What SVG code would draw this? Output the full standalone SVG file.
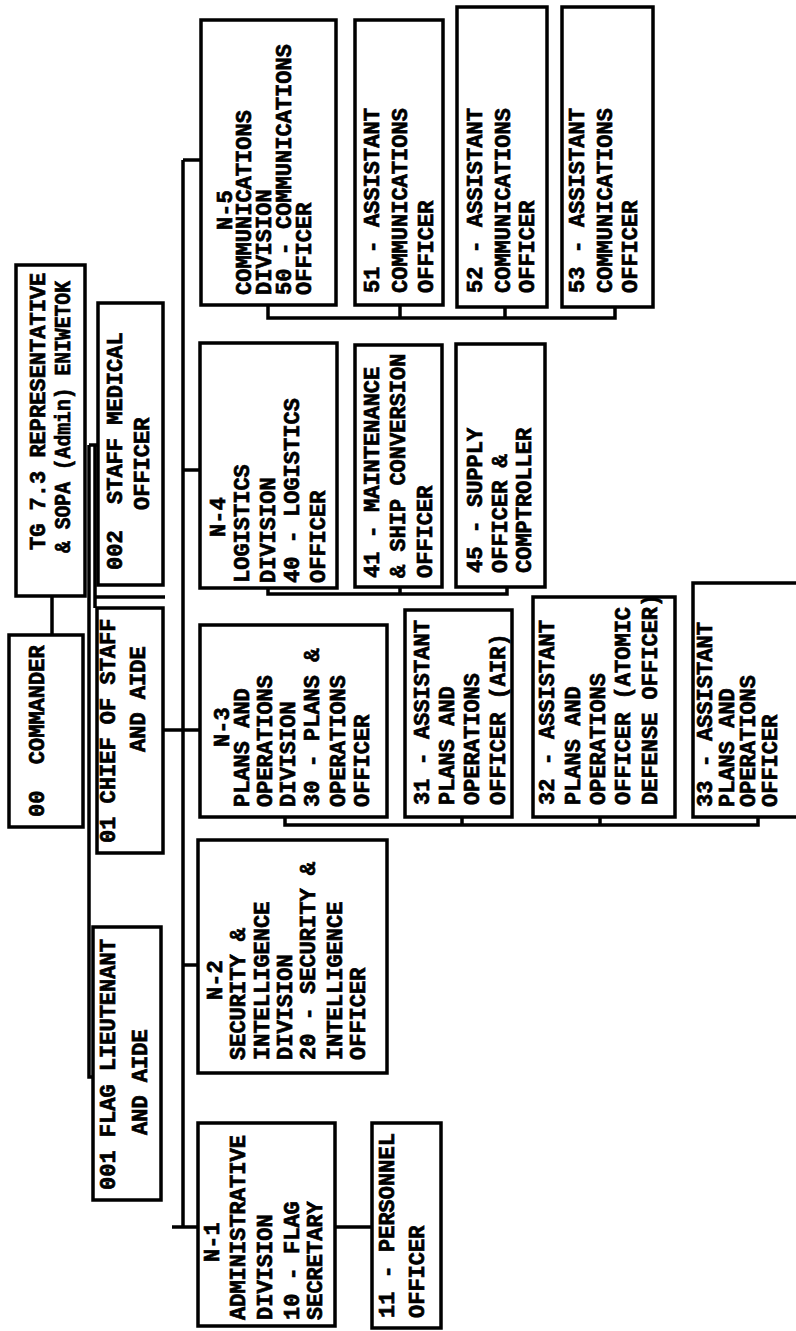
<svg xmlns="http://www.w3.org/2000/svg" width="796" height="1331" viewBox="0 0 796 1331">
<style>
.box{fill:#fff;stroke:#000;stroke-width:3.5}
.ln{fill:none;stroke:#000;stroke-width:3.5}
.t{font-family:"Liberation Mono","DejaVu Sans Mono",monospace;font-weight:bold;font-size:22px;fill:#000;stroke:#000;stroke-width:0.7}
</style>
<rect width="796" height="1331" fill="#fff"/>
<g id="connectors">
<path class="ln" d="M183,160 V1227"/>
<path class="ln" d="M183,160 H201"/>
<path class="ln" d="M183,470 H200"/>
<path class="ln" d="M163,730 H200"/>
<path class="ln" d="M183,965 H198"/>
<path class="ln" d="M172,1227 H198"/>
<path class="ln" d="M335,1227 H372"/>
<path class="ln" d="M52,596 V635"/>
<path class="ln" d="M89,445 V1077 H94"/>
<path class="ln" d="M89,445 H98"/>
<path class="ln" d="M95,445 V608"/>
<path class="ln" d="M95,597 H165"/>
<path class="ln" d="M268,305 V318 H615 V307 M400,305 V318 M505,307 V318"/>
<path class="ln" d="M268,588 V594 H507 V587 M400,587 V594"/>
<path class="ln" d="M285,817 V825 H758 V817 M462,817 V825 M600,817 V825"/>
</g>
<g id="tg73">
<rect class="box" x="16" y="265" width="69" height="331"/>
<text class="t" transform="rotate(-90)"><tspan x="-550" y="45">TG 7.3 REPRESENTATIVE</tspan><tspan x="-553" y="70" textLength="272" lengthAdjust="spacingAndGlyphs">&amp; SOPA (Admin) ENIWETOK</tspan></text>
</g>
<g id="n00">
<rect class="box" x="9" y="635" width="74" height="192"/>
<text class="t" transform="rotate(-90)" xml:space="preserve"><tspan x="-817" y="44">00  COMMANDER</tspan></text>
</g>
<g id="n002">
<rect class="box" x="98" y="303" width="65" height="282"/>
<text class="t" transform="rotate(-90)" xml:space="preserve"><tspan x="-570" y="122">002  STAFF MEDICAL</tspan><tspan x="-510" y="149">OFFICER</tspan></text>
</g>
<g id="n01">
<rect class="box" x="97" y="608" width="66" height="245"/>
<text class="t" transform="rotate(-90)"><tspan x="-843" y="115">01 CHIEF OF STAFF</tspan><tspan x="-752" y="145">AND AIDE</tspan></text>
</g>
<g id="n001">
<rect class="box" x="93" y="927" width="68" height="273"/>
<text class="t" transform="rotate(-90)"><tspan x="-1190" y="115">001 FLAG LIEUTENANT</tspan><tspan x="-1135" y="147">AND AIDE</tspan></text>
</g>
<g id="n1">
<rect class="box" x="198" y="1123" width="137" height="203"/>
<text class="t" transform="rotate(-90)"><tspan x="-1262" y="219">N-1</tspan><tspan x="-1320" y="245">ADMINISTRATIVE</tspan><tspan x="-1320" y="272">DIVISION</tspan><tspan x="-1320" y="299">10 - FLAG</tspan><tspan x="-1320" y="322">SECRETARY</tspan></text>
</g>
<g id="n11">
<rect class="box" x="372" y="1123" width="69" height="205"/>
<text class="t" transform="rotate(-90)"><tspan x="-1318" y="394">11 - PERSONNEL</tspan><tspan x="-1318" y="424">OFFICER</tspan></text>
</g>
<g id="n2">
<rect class="box" x="198" y="840" width="189" height="233"/>
<text class="t" transform="rotate(-90)"><tspan x="-1000" y="222">N-2</tspan><tspan x="-1060" y="245">SECURITY &amp;</tspan><tspan x="-1060" y="269">INTELLIGENCE</tspan><tspan x="-1060" y="292">DIVISION</tspan><tspan x="-1060" y="315">20 - SECURITY &amp;</tspan><tspan x="-1060" y="342">INTELLIGENCE</tspan><tspan x="-1060" y="365">OFFICER</tspan></text>
</g>
<g id="n3">
<rect class="box" x="200" y="625" width="187" height="192"/>
<text class="t" transform="rotate(-90)"><tspan x="-747" y="229">N-3</tspan><tspan x="-807" y="249">PLANS AND</tspan><tspan x="-807" y="272">OPERATIONS</tspan><tspan x="-807" y="295">DIVISION</tspan><tspan x="-807" y="319">30 - PLANS &amp;</tspan><tspan x="-807" y="345">OPERATIONS</tspan><tspan x="-807" y="369">OFFICER</tspan></text>
</g>
<g id="n31">
<rect class="box" x="405" y="610" width="107" height="207"/>
<text class="t" transform="rotate(-90)"><tspan x="-805" y="429">31 - ASSISTANT</tspan><tspan x="-805" y="454">PLANS AND</tspan><tspan x="-805" y="479">OPERATIONS</tspan><tspan x="-805" y="505">OFFICER (AIR)</tspan></text>
</g>
<g id="n32">
<rect class="box" x="533" y="597" width="142" height="220"/>
<text class="t" transform="rotate(-90)"><tspan x="-805" y="554">32 - ASSISTANT</tspan><tspan x="-805" y="580">PLANS AND</tspan><tspan x="-805" y="605">OPERATIONS</tspan><tspan x="-805" y="630">OFFICER (ATOMIC</tspan><tspan x="-805" y="657">DEFENSE OFFICER)</tspan></text>
</g>
<g id="n33">
<rect class="box" x="693" y="583" width="110" height="234"/>
<text class="t" transform="rotate(-90)"><tspan x="-807" y="712">33 - ASSISTANT</tspan><tspan x="-807" y="734">PLANS AND</tspan><tspan x="-807" y="755">OPERATIONS</tspan><tspan x="-807" y="777">OFFICER</tspan></text>
</g>
<g id="n4">
<rect class="box" x="200" y="343" width="137" height="245"/>
<text class="t" transform="rotate(-90)"><tspan x="-537" y="225">N-4</tspan><tspan x="-583" y="249">LOGISTICS</tspan><tspan x="-583" y="275">DIVISION</tspan><tspan x="-583" y="299">40 - LOGISTICS</tspan><tspan x="-583" y="325">OFFICER</tspan></text>
</g>
<g id="n41">
<rect class="box" x="355" y="345" width="87" height="242"/>
<text class="t" transform="rotate(-90)"><tspan x="-578" y="379">41 - MAINTENANCE</tspan><tspan x="-578" y="405">&amp; SHIP CONVERSION</tspan><tspan x="-578" y="432">OFFICER</tspan></text>
</g>
<g id="n45">
<rect class="box" x="456" y="344" width="89" height="243"/>
<text class="t" transform="rotate(-90)"><tspan x="-573" y="482">45 - SUPPLY</tspan><tspan x="-573" y="507">OFFICER &amp;</tspan><tspan x="-573" y="531">COMPTROLLER</tspan></text>
</g>
<g id="n5">
<rect class="box" x="201" y="20" width="135" height="285"/>
<text class="t" transform="rotate(-90)"><tspan x="-230" y="232">N-5</tspan><tspan x="-295" y="251">COMMUNICATIONS</tspan><tspan x="-295" y="271">DIVISION</tspan><tspan x="-295" y="291">50 - COMMUNICATIONS</tspan><tspan x="-295" y="311">OFFICER</tspan></text>
</g>
<g id="n51">
<rect class="box" x="355" y="20" width="88" height="285"/>
<text class="t" transform="rotate(-90)"><tspan x="-293" y="379">51 - ASSISTANT</tspan><tspan x="-293" y="407">COMMUNICATIONS</tspan><tspan x="-293" y="433">OFFICER</tspan></text>
</g>
<g id="n52">
<rect class="box" x="457" y="7" width="90" height="300"/>
<text class="t" transform="rotate(-90)"><tspan x="-293" y="482">52 - ASSISTANT</tspan><tspan x="-293" y="510">COMMUNICATIONS</tspan><tspan x="-293" y="534">OFFICER</tspan></text>
</g>
<g id="n53">
<rect class="box" x="562" y="7" width="91" height="300"/>
<text class="t" transform="rotate(-90)"><tspan x="-293" y="584">53 - ASSISTANT</tspan><tspan x="-293" y="612">COMMUNICATIONS</tspan><tspan x="-293" y="637">OFFICER</tspan></text>
</g>
</svg>
